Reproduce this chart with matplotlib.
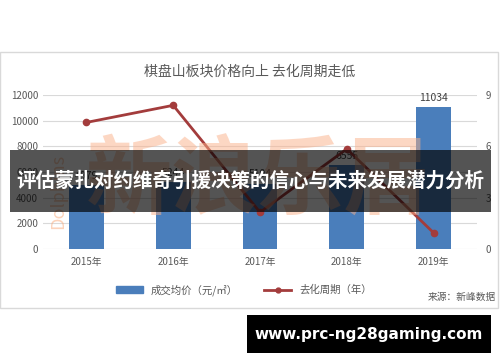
import matplotlib
matplotlib.use('Agg')
from matplotlib import pyplot as plt
from matplotlib.patches import Rectangle
from matplotlib.lines import Line2D

plt.rcParams['font.family'] = ['Noto Sans CJK SC', 'DejaVu Sans']

years = ['2015年', '2016年', '2017年', '2018年', '2019年']
price = [4979, 5244, 5104, 6555, 11034]
cycle = [7.4, 8.4, 2.15, 5.85, 0.95]

title = '棋盘山板块价格向上 去化周期走低'
banner = '评估蒙扎对约维奇引援决策的信心与未来发展潜力分析'
site = 'www.prc-ng28gaming.com'

bar_color = '#4a7ebb'
line_color = '#a33c3c'
gray = '#595959'

fig = plt.figure(figsize=(5, 3.62), dpi=100)

# chart panel border
fig.patches.append(Rectangle((0.0, 1 - 308 / 362), 0.996, 256 / 362, transform=fig.transFigure,
                             fill=False, edgecolor='#d9d9d9', linewidth=1))

ax = fig.add_axes([0.086, 0.312, 0.868, 0.4254])
x = list(range(len(years)))
ax.bar(x, price, width=0.4, color=bar_color, zorder=2)
for xi, v in zip(x, price):
    ax.annotate(str(v), (xi, v), xytext=(0, 3), textcoords='offset points',
                ha='center', va='bottom', fontsize=7.5, color='#404040')
ax.set_xlim(-0.5, 4.5)
ax.set_ylim(0, 12000)
ax.set_yticks([0, 2000, 4000, 6000, 8000, 10000, 12000])
ax.set_xticks(x)
ax.set_xticklabels(years)
ax.grid(axis='y', color='#d9d9d9', linewidth=0.8, zorder=0)
for s in ax.spines.values():
    s.set_visible(False)
ax.tick_params(length=0, labelsize=7, labelcolor=gray)
ax.tick_params(axis='x', pad=6)

ax2 = ax.twinx()
ax2.plot(x, cycle, color=line_color, linewidth=2, marker='o', markersize=4.5, zorder=3)
ax2.set_ylim(0, 9)
ax2.set_yticks([0, 3, 6, 9])
for s in ax2.spines.values():
    s.set_visible(False)
ax2.tick_params(length=0, labelsize=7, labelcolor=gray, pad=6)

fig.text(0.5, 0.801, title, ha='center', va='center', fontsize=10, color=gray)

handles = [Rectangle((0, 0), 1, 1, color=bar_color),
           Line2D([0], [0], color=line_color, linewidth=2, marker='o', markersize=3.5)]
fig.legend(handles, ['成交均价（元/㎡）', '去化周期（年）'], loc='center', ncol=2,
           bbox_to_anchor=(0.488, 0.199), frameon=False, fontsize=7.5,
           labelcolor=gray, handlelength=2.6, handleheight=0.6, columnspacing=2.5)
fig.text(0.992, 0.18, '来源：新峰数据', ha='right', va='center', fontsize=7, color=gray)

# watermark
fig.text(0.516, 0.497, '新浪乐居', ha='center', va='center', fontsize=62, fontweight='bold',
         color='#fbb089', alpha=0.5, zorder=1)
fig.text(0.116, 0.47, 'Dolphins', ha='center', va='center', rotation=90, fontsize=13,
         color='#f9a878', alpha=0.5)

# banner overlay
fig.patches.append(Rectangle((0.02, 1 - 212 / 362), 0.962, 62 / 362, transform=fig.transFigure,
                             facecolor='black', alpha=0.67, edgecolor='none', zorder=5))
fig.text(0.501, 0.5, banner, ha='center', va='center', fontsize=14, fontweight='bold',
         color='white', zorder=6)

# site box
fig.patches.append(Rectangle((0.494, 1 - 353 / 362), 0.488, 38 / 362, transform=fig.transFigure,
                             facecolor='black', edgecolor='none', zorder=5))
fig.text(0.738, 0.077, site, ha='center', va='center', fontsize=11, fontweight='bold',
         color='white', family='DejaVu Sans', zorder=6)

fig.savefig('out.png', dpi=100)
